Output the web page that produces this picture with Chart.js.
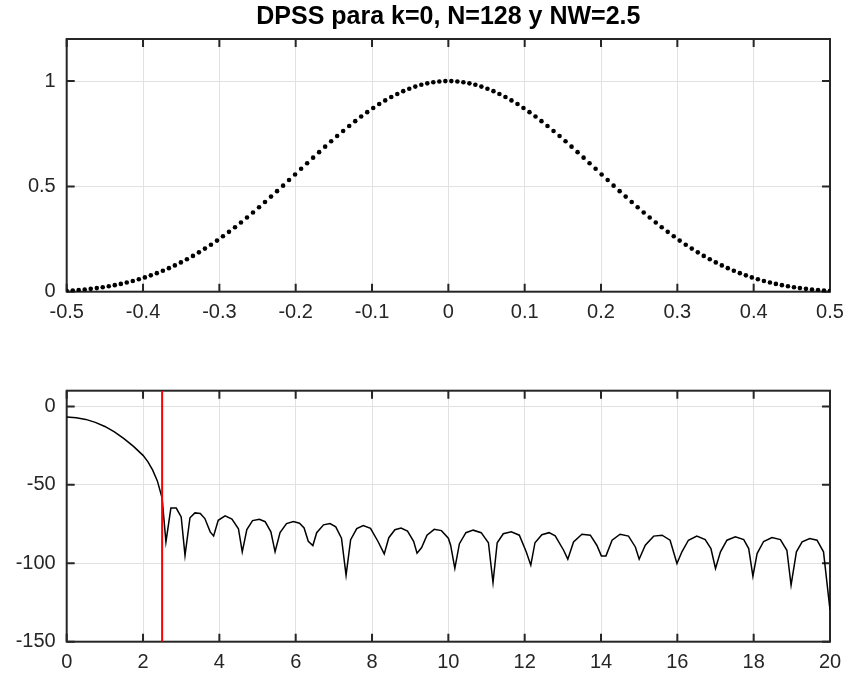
<!DOCTYPE html>
<html>
<head>
<meta charset="utf-8">
<script src="https://cdn.jsdelivr.net/npm/chart.js@4/dist/chart.umd.min.js"></script>
<style>
  html, body { margin: 0; padding: 0; background: #ffffff; }
  #wrap { position: relative; width: 849px; height: 681px; }
  canvas { position: absolute; left: 0; }
  #c1 { top: 0; }
  #c2 { top: 340px; }
</style>
</head>
<body>
<div id="wrap">
  <canvas id="c1" width="849" height="340"></canvas>
  <canvas id="c2" width="849" height="341"></canvas>
</div>
<script>
// ---------- DATA ----------
const titleText = "DPSS para k=0, N=128 y NW=2.5";

// sample positions (normalized index, -0.5 .. 0.5, 128 samples)
const dpssX = [
 -0.5000,-0.4921,-0.4843,-0.4764,-0.4685,-0.4606,-0.4528,-0.4449,-0.4370,-0.4291,-0.4213,-0.4134,-0.4055,-0.3976,-0.3898,-0.3819,
 -0.3740,-0.3661,-0.3583,-0.3504,-0.3425,-0.3346,-0.3268,-0.3189,-0.3110,-0.3031,-0.2953,-0.2874,-0.2795,-0.2717,-0.2638,-0.2559,
 -0.2480,-0.2402,-0.2323,-0.2244,-0.2165,-0.2087,-0.2008,-0.1929,-0.1850,-0.1772,-0.1693,-0.1614,-0.1535,-0.1457,-0.1378,-0.1299,
 -0.1220,-0.1142,-0.1063,-0.0984,-0.0906,-0.0827,-0.0748,-0.0669,-0.0591,-0.0512,-0.0433,-0.0354,-0.0276,-0.0197,-0.0118,-0.0039,
 0.0039,0.0118,0.0197,0.0276,0.0354,0.0433,0.0512,0.0591,0.0669,0.0748,0.0827,0.0906,0.0984,0.1063,0.1142,0.1220,
 0.1299,0.1378,0.1457,0.1535,0.1614,0.1693,0.1772,0.1850,0.1929,0.2008,0.2087,0.2165,0.2244,0.2323,0.2402,0.2480,
 0.2559,0.2638,0.2717,0.2795,0.2874,0.2953,0.3031,0.3110,0.3189,0.3268,0.3346,0.3425,0.3504,0.3583,0.3661,0.3740,
 0.3819,0.3898,0.3976,0.4055,0.4134,0.4213,0.4291,0.4370,0.4449,0.4528,0.4606,0.4685,0.4764,0.4843,0.4921,0.5000
];
// DPSS k=0 amplitude (normalized)
const dpssY = [
 0.0037,0.0056,0.0078,0.0104,0.0135,0.0170,0.0211,0.0258,0.0311,0.0370,0.0436,0.0509,0.0590,0.0679,0.0776,0.0881,
 0.0995,0.1118,0.1250,0.1391,0.1541,0.1700,0.1868,0.2046,0.2232,0.2427,0.2630,0.2842,0.3061,0.3288,0.3522,0.3762,
 0.4008,0.4260,0.4515,0.4775,0.5037,0.5302,0.5568,0.5835,0.6100,0.6365,0.6628,0.6887,0.7142,0.7391,0.7634,0.7871,
 0.8098,0.8317,0.8526,0.8724,0.8910,0.9084,0.9245,0.9391,0.9523,0.9639,0.9740,0.9826,0.9894,0.9946,0.9981,1.0000,
 1.0000,0.9981,0.9946,0.9894,0.9826,0.9740,0.9639,0.9523,0.9391,0.9245,0.9084,0.8910,0.8724,0.8526,0.8317,0.8098,
 0.7871,0.7634,0.7391,0.7142,0.6887,0.6628,0.6365,0.6100,0.5835,0.5568,0.5302,0.5037,0.4775,0.4515,0.4260,0.4008,
 0.3762,0.3522,0.3288,0.3061,0.2842,0.2630,0.2427,0.2232,0.2046,0.1868,0.1700,0.1541,0.1391,0.1250,0.1118,0.0995,
 0.0881,0.0776,0.0679,0.0590,0.0509,0.0436,0.0370,0.0311,0.0258,0.0211,0.0170,0.0135,0.0104,0.0078,0.0056,0.0037
];

// spectrum (frequency x N, dB)
const specF = [
 0,0.25,0.5,0.75,1.0,1.25,1.5,1.75,2.0,2.125,2.25,2.375,2.5,
 2.6,2.73,2.87,3.0,3.1,3.23,3.36,3.5,3.62,3.76,3.85,3.97,4.15,4.33,4.5,4.6,4.72,4.87,5.05,5.2,5.35,5.46,5.59,5.76,5.94,
 6.1,6.22,6.33,6.45,6.55,6.73,6.9,7.05,7.2,7.32,7.44,7.6,7.77,7.96,8.15,8.32,8.44,8.6,8.76,8.93,9.09,9.18,9.3,9.44,9.63,9.82,
 10.0,10.06,10.17,10.29,10.46,10.65,10.86,11.05,11.17,11.28,11.44,11.65,11.86,12.04,12.16,12.27,12.45,12.64,12.8,
 13.02,13.13,13.28,13.5,13.72,13.89,14.01,14.13,14.29,14.5,14.72,14.9,15.0,15.16,15.38,15.6,15.81,15.99,16.12,16.29,16.51,
 16.73,16.88,17.0,17.13,17.3,17.52,17.74,17.87,17.98,18.09,18.26,18.48,18.7,18.87,18.98,19.12,19.27,19.47,19.66,19.83,20.0
];
const specDb = [
 -6.8,-7.2,-8.3,-10.2,-12.8,-16.2,-20.5,-25.5,-31.2,-35.2,-40.5,-47.5,-58.5,
 -86.4,-64.8,-64.8,-70.5,-95.0,-71.0,-67.9,-68.3,-71.5,-80.0,-82.6,-72.6,-69.8,-71.8,-78.0,-92.7,-78.5,-72.8,-72.0,-73.5,-80.0,-92.7,-80.5,-74.7,-73.4,
 -74.5,-77.5,-86.0,-88.7,-80.5,-75.5,-74.7,-76.8,-84.0,-107.6,-85.0,-77.9,-76.0,-77.7,-85.8,-94.0,-83.7,-78.6,-77.5,-79.5,-86.0,-93.6,-90.0,-82.1,-78.4,-79.2,
 -84.0,-88.5,-103.3,-87.5,-80.5,-78.9,-80.5,-86.9,-112.3,-86.9,-81.2,-80.0,-82.1,-92.7,-101.2,-86.9,-81.8,-80.5,-82.5,
 -91.7,-97.4,-86.4,-81.5,-82.1,-88.5,-95.3,-95.3,-85.3,-81.5,-82.7,-89.6,-97.4,-88.5,-82.7,-82.1,-85.3,-100.2,-92.7,-85.3,-82.7,
 -84.9,-90.6,-103.3,-92.7,-85.3,-83.2,-84.9,-90.6,-108.2,-93.8,-86.1,-83.6,-84.9,-91.7,-113.9,-92.7,-86.4,-84.3,-85.3,-92.7,-129.8
];
const bandEdge = 2.5; // NW

// ticks
const topXTicks = [-0.5,-0.4,-0.3,-0.2,-0.1,0,0.1,0.2,0.3,0.4,0.5];
const topYTicks = [0,0.5,1];
const botXTicks = [0,2,4,6,8,10,12,14,16,18,20];
const botYTicks = [-150,-100,-50,0];

// ---------- STYLE / HELPERS ----------
const AXIS = '#262626';
const GRID = '#e1e1e1';
const FONT = "'Liberation Sans', Arial, Helvetica, sans-serif";

const boxPlugin = {
  id: 'matlabBox',
  beforeDatasetsDraw(chart) {
    const { ctx, chartArea: a, scales } = chart;
    const x = scales.x, y = scales.y, L = 8;
    ctx.save();
    ctx.strokeStyle = AXIS;
    ctx.lineWidth = 2;
    ctx.beginPath();
    x.ticks.forEach(t => {
      const p = x.getPixelForValue(t.value);
      ctx.moveTo(p, a.bottom); ctx.lineTo(p, a.bottom - L);
      ctx.moveTo(p, a.top); ctx.lineTo(p, a.top + L);
    });
    y.ticks.forEach(t => {
      const p = y.getPixelForValue(t.value);
      ctx.moveTo(a.left, p); ctx.lineTo(a.left + L, p);
      ctx.moveTo(a.right, p); ctx.lineTo(a.right - L, p);
    });
    ctx.stroke();
    ctx.strokeRect(a.left, a.top, a.right - a.left, a.bottom - a.top);
    ctx.restore();
  }
};

function noPad(s) { s.paddingLeft = 0; s.paddingRight = 0; s.paddingTop = 0; s.paddingBottom = 0; }

function axisX(min, max, tickList, height) {
  return {
    type: 'linear', min, max,
    afterBuildTicks: s => { s.ticks = tickList.map(v => ({ value: v })); },
    afterFit: s => { s.height = height; noPad(s); },
    grid: { color: GRID, lineWidth: 1, drawTicks: false },
    border: { display: false },
    ticks: { color: AXIS, font: { family: FONT, size: 20 }, padding: 9, maxRotation: 0,
             callback: v => String(v) }
  };
}
function axisY(min, max, tickList) {
  return {
    type: 'linear', min, max,
    afterBuildTicks: s => { s.ticks = tickList.map(v => ({ value: v })); },
    afterFit: s => { s.width = 66.7; noPad(s); },
    grid: { color: GRID, lineWidth: 1, drawTicks: false },
    border: { display: false },
    ticks: { color: AXIS, font: { family: FONT, size: 20 }, padding: 11,
             callback: v => String(v) }
  };
}

// ---------- TOP CHART ----------
new Chart(document.getElementById('c1'), {
  type: 'scatter',
  data: {
    datasets: [{
      data: dpssX.map((x, i) => ({ x, y: dpssY[i] })),
      pointRadius: 2.3,
      pointBackgroundColor: '#000000',
      pointBorderWidth: 0,
      showLine: false
    }]
  },
  options: {
    responsive: false,
    animation: false,
    layout: { padding: { left: 0, right: 19, top: 0, bottom: 0 } },
    plugins: {
      legend: { display: false },
      tooltip: { enabled: false },
      title: {
        display: true, text: titleText, color: '#000000', fullSize: false,
        font: { family: FONT, size: 25, weight: 'bold', lineHeight: 1.2 },
        padding: { top: 2, bottom: 7 }
      }
    },
    scales: {
      x: axisX(-0.5, 0.5, topXTicks, 48.3),
      y: axisY(0, 1.2, topYTicks)
    }
  },
  plugins: [boxPlugin]
});

// ---------- BOTTOM CHART ----------
new Chart(document.getElementById('c2'), {
  type: 'line',
  data: {
    datasets: [
      {
        data: [{ x: bandEdge, y: 10 }, { x: bandEdge, y: -150 }],
        borderColor: '#ff0000', borderWidth: 2, pointRadius: 0, order: 0, tension: 0
      },
      {
        data: specF.map((f, i) => ({ x: f, y: specDb[i] })),
        borderColor: '#000000', borderWidth: 1.5, pointRadius: 0, order: 1, tension: 0
      }
    ]
  },
  options: {
    responsive: false,
    animation: false,
    layout: { padding: { left: 0, right: 19, top: 50.7, bottom: 0 } },
    plugins: { legend: { display: false }, tooltip: { enabled: false } },
    scales: {
      x: axisX(0, 20, botXTicks, 39.3),
      y: axisY(-150, 10, botYTicks)
    }
  },
  plugins: [boxPlugin]
});
</script>
</body>
</html>
